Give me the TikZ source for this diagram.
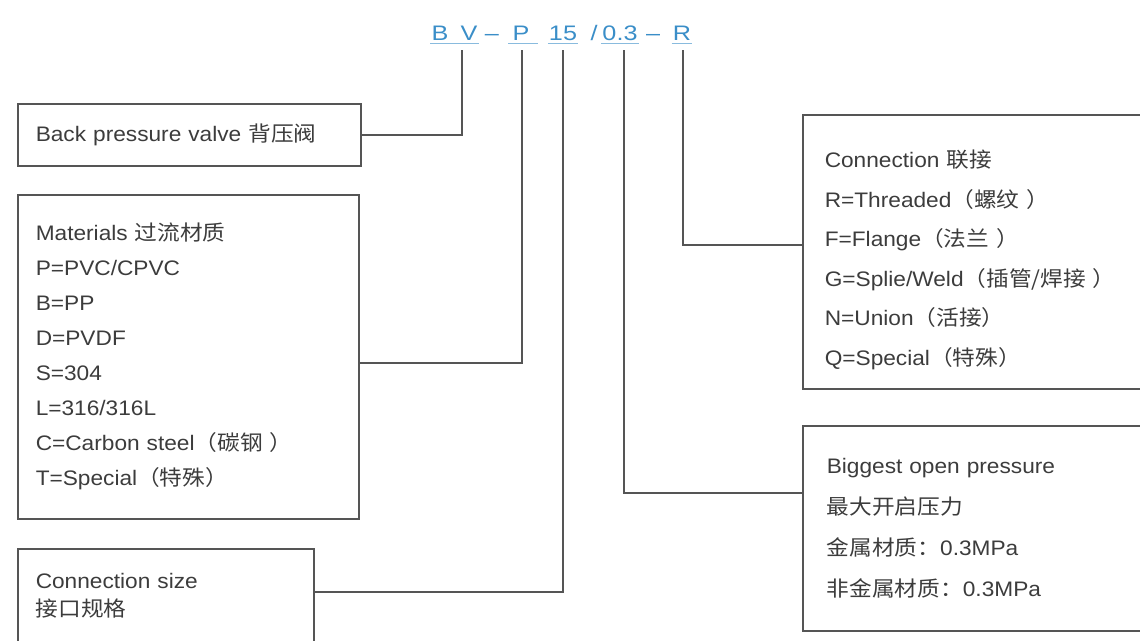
\documentclass[tikz,border=0pt]{standalone}
\usepackage{fontspec}
\setmainfont[FakeStretch=1.08]{Liberation Sans}
\newfontfamily\cjk[FakeStretch=1.08]{Noto Sans CJK SC}
\newfontfamily\codefont[FakeStretch=1.2]{Liberation Sans}
\newcommand{\zh}[1]{{\cjk #1}}
\usetikzlibrary{calc}
\definecolor{codeblue}{RGB}{58,142,200}
\definecolor{linegray}{RGB}{85,85,85}
\definecolor{textgray}{RGB}{60,60,60}

\begin{document}
\begin{tikzpicture}
    [x=1pt,y=-1pt,
      infobox/.style={draw=linegray,line width=1.5pt,anchor=north west,inner xsep=18pt,inner ysep=0pt,
        align=left,text=textgray,font=\fontsize{21}{35}\selectfont},
      codepart/.style={text=codeblue,font=\codefont\fontsize{21}{26}\selectfont,anchor=base,inner sep=0pt},
      codeline/.style={draw=codeblue!60,line width=0.8pt},
      leader/.style={draw=linegray,line width=1.5pt}
    ]
    \useasboundingbox (0,0) rectangle (1140,640);
    \clip (0,0) rectangle (1140,640);

    \node [codepart] (pB) at (440,40) {B};
    \node [codepart] (pV) at (469,40) {V};
    \node [codepart] (d1) at (492,40) {\textendash};
    \node [codepart] (pP) at (521,40) {P};
    \node [codepart] (p15) at (563,40) {15};
    \node [codepart] (sl) at (594,40) {/};
    \node [codepart] (p03) at (620,40) {0.3};
    \node [codepart] (d2) at (653,40) {\textendash};
    \node [codepart] (pR) at (682,40) {R};
    \draw [codeline] ([xshift=-1pt,yshift=-3pt]pB.south west) -- ([xshift=1pt,yshift=-3pt]pV.south east);
    \draw [codeline] ([xshift=-4pt,yshift=-3pt]pP.south west) -- ([xshift=8pt,yshift=-3pt]pP.south east);
    \draw [codeline] ([xshift=-1pt,yshift=-3pt]p15.south west) -- ([xshift=1pt,yshift=-3pt]p15.south east);
    \draw [codeline] ([xshift=-1pt,yshift=-3pt]p03.south west) -- ([xshift=1pt,yshift=-3pt]p03.south east);
    \draw [codeline] ([xshift=-1pt,yshift=-3pt]pR.south west) -- ([xshift=1pt,yshift=-3pt]pR.south east);

    \coordinate (tapBV) at (462,50);
    \coordinate (tapP) at (522,50);
    \coordinate (tap15) at (563,50);
    \coordinate (tap03) at (624,50);
    \coordinate (tapR) at (683,50);

    \node [infobox,text width=307pt,minimum height=62pt] (valve) at (17,103)
      {Back pressure valve \zh{背压阀}};
    \node [infobox,text width=305pt,minimum height=324pt] (material) at (17,194)
      {Materials \zh{过流材质}\\ P=PVC/CPVC\\ B=PP\\ D=PVDF\\ S=304\\ L=316/316L\\
       C=Carbon steel\zh{（碳钢 ）}\\ T=Special\zh{（特殊）}};
    \node [infobox,text width=260pt,inner ysep=25pt,text depth=120pt,
      font=\fontsize{21}{28}\selectfont] (size) at (17,548)
      {Connection size\\ \zh{接口规格}};
    \node [infobox,text width=330pt,minimum height=274pt,inner xsep=22pt,text height=34pt,
      font=\fontsize{21}{39.6}\selectfont] (connect) at (802,114)
      {Connection \zh{联接}\\ R=Threaded\zh{（螺纹 ）}\\ F=Flange\zh{（法兰 ）}\\
       G=Splie/Weld\zh{（插管/焊接 ）}\\ N=Union\zh{（活接）}\\ Q=Special\zh{（特殊）}};
    \node [infobox,text width=330pt,minimum height=205pt,inner xsep=24pt,
      font=\fontsize{21}{41}\selectfont] (pressure) at (802,425)
      {Biggest open pressure\\ \zh{最大开启压力}\\ \zh{金属材质：}0.3MPa\\ \zh{非金属材质：}0.3MPa};

    \draw [leader] (tapBV) |- (valve.east);
    \draw [leader] (tapP) |- ($(material.north east)+(0,169)$);
    \draw [leader] (tap15) |- ($(size.north east)+(0,44)$);
    \draw [leader] (tap03) |- ($(pressure.north west)+(0,68)$);
    \draw [leader] (tapR) |- ($(connect.north west)+(0,131)$);
\end{tikzpicture}
\end{document}
